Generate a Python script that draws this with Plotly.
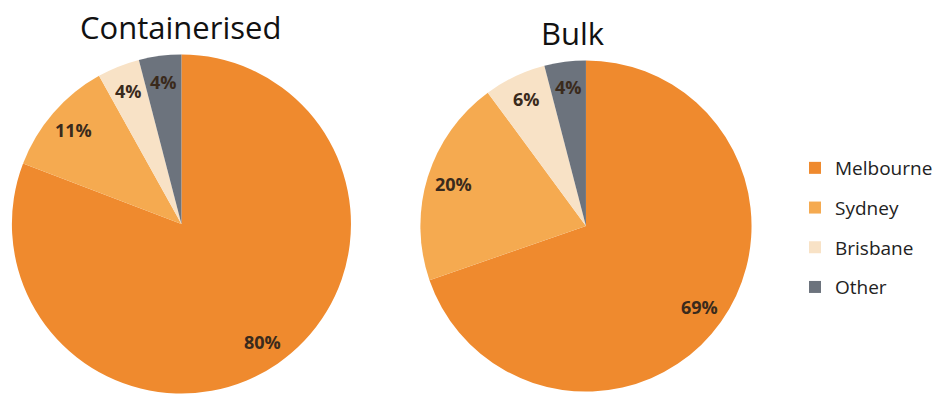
import math
import plotly.graph_objects as go

ports = ["Melbourne", "Sydney", "Brisbane", "Other"]
colors = ["#EF8A2E", "#F5AA50", "#F8E2C6", "#6C737D"]
containerised = [80, 11, 4, 4]
bulk = [69, 20, 6, 4]
titles = ["Containerised", "Bulk"]

W, H = 938, 403
LABEL_RADIUS = 0.84  # label distance as a fraction of the pie radius

# pie boxes in pixels: (left, right, top, bottom)
boxes = [(12, 354, 53, 395), (424, 758, 59, 393)]
title_pos = [(182, 27), (578, 33)]


def px_to_paper(x, y):
    return x / W, 1 - y / H


fig = go.Figure()
label_font = dict(family="Open Sans", size=18, color="#3A2A1C")

for vals, box, title, tpos in zip([containerised, bulk], boxes, titles, title_pos):
    x0, x1, yt, yb = box
    fig.add_trace(go.Pie(
        labels=ports, values=vals, sort=False, direction="clockwise", rotation=0,
        marker=dict(colors=colors, line=dict(width=0)), textinfo="none",
        domain=dict(x=[x0 / W, x1 / W], y=[1 - yb / H, 1 - yt / H]),
        showlegend=False, hoverinfo="label+value",
    ))
    cx, cy = (x0 + x1) / 2, (yt + yb) / 2
    r = min(x1 - x0, yb - yt) / 2
    total = sum(vals)
    cum = 0
    for v in vals:
        ang = 2 * math.pi * (cum + v / 2) / total
        cum += v
        lx = cx + LABEL_RADIUS * r * math.sin(ang)
        ly = cy - LABEL_RADIUS * r * math.cos(ang)
        px, py = px_to_paper(lx, ly)
        fig.add_annotation(text=f"<b>{v}%</b>", x=px, y=py, xref="paper", yref="paper",
                           showarrow=False, font=label_font,
                           xanchor="center", yanchor="middle")
    tx, ty = px_to_paper(*tpos)
    fig.add_annotation(text=title, x=tx, y=ty, xref="paper", yref="paper",
                       showarrow=False, font=dict(family="Open Sans", size=31, color="#111111"),
                       xanchor="center", yanchor="middle")

for name, c in zip(ports, colors):
    fig.add_trace(go.Scatter(
        x=[None], y=[None], mode="markers", name=name, legendgroup=name,
        marker=dict(symbol="square", size=12, color=c),
    ))

fig.update_layout(
    width=W, height=H, margin=dict(l=0, r=0, t=0, b=0),
    paper_bgcolor="white", plot_bgcolor="white",
    xaxis=dict(visible=False), yaxis=dict(visible=False),
    legend=dict(x=802 / W, y=1 - 149 / H, xanchor="left", yanchor="top",
                font=dict(family="Open Sans", size=19, color="#222222"),
                tracegroupgap=12, itemwidth=30, bgcolor="rgba(0,0,0,0)"),
)

fig.write_html("out.html")
